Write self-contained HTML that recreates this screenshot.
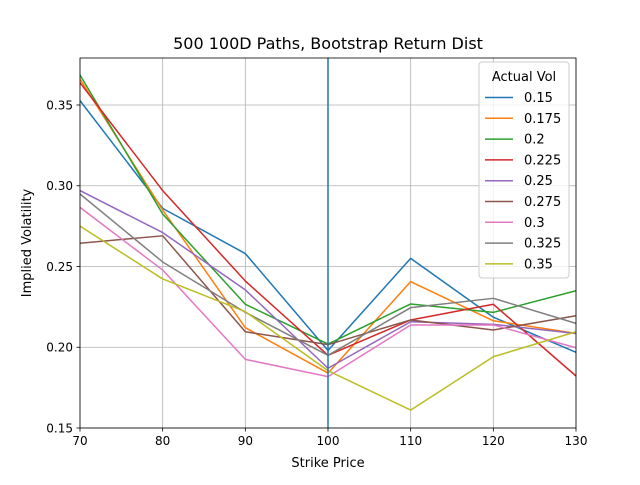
<!DOCTYPE html>
<html><head><meta charset="utf-8"><style>
body{margin:0;background:#fff;}
svg{font-family:"DejaVu Sans","Liberation Sans",sans-serif;}
</style></head><body>
<svg id="chart" width="640" height="480" xmlns="http://www.w3.org/2000/svg">
<rect width="640" height="480" fill="#fff"/>
<text x="328" y="49" font-size="16" text-anchor="middle">500 100D Paths, Bootstrap Return Dist</text>
<g id="grid"></g><g id="series"></g><g id="axes"></g><g id="legend"></g>
</svg>
<script>
const strikes=[70,80,90,100,110,120,130];
const seriesNames=["0.15","0.175","0.2","0.225","0.25","0.275","0.3","0.325","0.35"];
const s015=[0.3527,0.286,0.258,0.198,0.255,0.2186,0.1969];
const s0175=[0.366,0.285,0.2121,0.184,0.2406,0.2164,0.2086];
const s02=[0.3686,0.2825,0.2266,0.202,0.2268,0.2216,0.235];
const s0225=[0.3638,0.297,0.241,0.195,0.2169,0.2266,0.1822];
const s025=[0.297,0.271,0.2355,0.187,0.2158,0.2142,0.2085];
const s0275=[0.2644,0.269,0.2096,0.2016,0.2169,0.2107,0.2195];
const s03=[0.2866,0.2478,0.1925,0.1818,0.2138,0.2138,0.1997];
const s0325=[0.2949,0.2528,0.2216,0.195,0.2245,0.2303,0.2148];
const s035=[0.275,0.2423,0.222,0.1855,0.1611,0.1941,0.2096];
const allSeries=[s015,s0175,s02,s0225,s025,s0275,s03,s0325,s035];
const colors=["#1f77b4","#ff7f0e","#2ca02c","#d62728","#9467bd","#8c564b","#e377c2","#7f7f7f","#bcbd22"];
const xTicks=[70,80,90,100,110,120,130];
const yTicks=[0.15,0.20,0.25,0.30,0.35];
const yTickLabels=["0.15","0.20","0.25","0.30","0.35"];
const vLineX=100;
const L=80,R=576,T=58,B=428,XMIN=70,XMAX=130,YMIN=0.15,YMAX=0.3791;
const sx=v=>L+(v-XMIN)/(XMAX-XMIN)*(R-L);
const sy=v=>B-(v-YMIN)/(YMAX-YMIN)*(B-T);
const NS="http://www.w3.org/2000/svg";
function mk(tag,attrs,parent,text){const e=document.createElementNS(NS,tag);for(const k in attrs)e.setAttribute(k,attrs[k]);if(text!==undefined)e.textContent=text;parent.appendChild(e);return e;}
const grid=document.getElementById('grid'),ser=document.getElementById('series'),ax=document.getElementById('axes'),lg=document.getElementById('legend');
xTicks.forEach(t=>{const x=sx(t);
 const g=mk('line',{x1:x,x2:x,y1:T,y2:B,stroke:'#b0b0b0','stroke-width':0.8},grid);
 
 
 mk('line',{x1:x,x2:x,y1:B,y2:B+3.5,stroke:'#000','stroke-width':0.8},ax);
 const tl=mk('text',{x:x,y:B+17,'font-size':12,'text-anchor':'middle'},ax,String(t));
 
 });
yTicks.forEach((t,i)=>{const y=sy(t);
 const g=mk('line',{x1:L,x2:R,y1:y,y2:y,stroke:'#b0b0b0','stroke-width':0.8},grid);
 
 
 mk('line',{x1:L-3.5,x2:L,y1:y,y2:y,stroke:'#000','stroke-width':0.8},ax);
 const tl=mk('text',{x:L-7,y:y+4.5,'font-size':12,'text-anchor':'end'},ax,yTickLabels[i]);
 
 });
allSeries.forEach((s,i)=>{
 const p=mk('polyline',{points:s.map((v,j)=>sx(strikes[j])+','+sy(v)).join(' '),fill:'none',stroke:colors[i],'stroke-width':1.5,'stroke-linejoin':'round'},ser);
 
 });
const vl=mk('line',{x1:sx(vLineX),x2:sx(vLineX),y1:T,y2:B,stroke:'#1f77b4','stroke-width':1.5},ser);


const fr=mk('rect',{x:L,y:T,width:R-L,height:B-T,fill:'none',stroke:'#000','stroke-width':0.8},ax);


const xt=mk('text',{x:(L+R)/2,y:467,'font-size':13,'text-anchor':'middle'},ax,'Strike Price');


const yt=mk('text',{x:31,y:(T+B)/2,'font-size':13,'text-anchor':'middle',transform:'rotate(-90 31 '+((T+B)/2)+')'},ax,'Implied Volatility');


const lb=mk('rect',{x:479,y:62,width:90,height:216,rx:3,fill:'#fff','fill-opacity':0.8,stroke:'#ccc','stroke-width':1},lg);


const lt=mk('text',{x:524,y:81,'font-size':13,'text-anchor':'middle'},lg,'Actual Vol');


seriesNames.forEach((n,i)=>{const y=97.5+i*20.8;
 const g=mk('g',{},lg);
 
 
 mk('line',{x1:485,x2:513,y1:y,y2:y,stroke:colors[i],'stroke-width':1.5},g);
 mk('text',{x:524,y:y+4.5,'font-size':13},g,n);});
</script>
</body></html>
